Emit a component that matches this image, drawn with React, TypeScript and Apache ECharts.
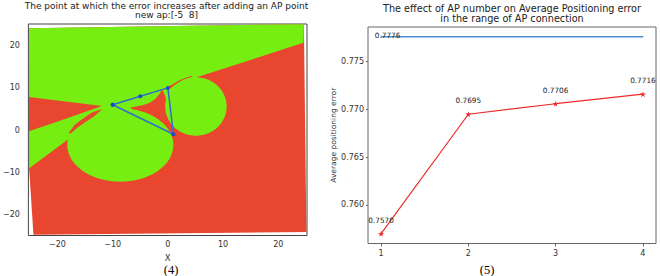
import React, { useEffect, useRef } from "react";
import * as echarts from "echarts";

// ---------- Left panel: region map (data coordinates) ----------
const mapTicks = [-20, -10, 0, 10, 20];
// AP triangle with the new AP at (-5, 8)
const apPath: [number, number][] = [[-10, 6], [-5, 8], [0, 10], [1, -1], [-10, 6]];

// area covered by the scatter of evaluated points (red = error increases)
const coveredArea: [number, number][] = [
  [-25.15, 24.2], [24.63, 25.15], [25.08, -24.2], [-24.34, -24.91], [-25.11, -9.49],
];
// green: error does not increase
const upperGreen: [number, number][] = [
  [-25.15, 24.2], [24.63, 25.15], [24.54, 20.71], [5.35, 12.57], [5.08, 7.12],
  [1.49, 3.56], [-0.66, 4.74], [-3.89, 2.85], [-8.74, 1.19], [-17.97, -2.14], [-25.11, -9.09],
];
const leftWedge: [number, number][] = [
  [-25.15, 7.83], [-11.96, 5.69], [-15.55, 4.03], [-19.68, 2.14], [-25.15, -0.31],
];
const topSliver: [number, number][] = [
  [0.05, 10.32], [0.95, 10.91], [2.03, 11.74], [3.1, 12.34], [4.18, 12.81],
  [4.54, 12.69], [3.46, 12.22], [2.21, 11.44], [1.13, 10.56], [0.41, 9.85],
];
const innerCusp: [number, number][] = [
  [-6.76, 5.34], [-4.79, 5.81], [-3.35, 6.41], [-2.28, 7.35], [-1.56, 8.54], [-1.02, 9.61],
  [-0.57, 8.3], [-0.22, 6.64], [0.23, 4.74], [1.67, 1.42], [1.13, -1.9], [-3.0, 1.9], [-5.69, 3.8],
];
const crescent: [number, number][] = [
  [-17.97, -0.71], [-16.9, 1.19], [-15.37, 2.73], [-13.76, 4.15], [-11.87, 4.98],
  [-13.4, 3.2], [-14.92, 1.9], [-16.36, 0.59], [-17.61, -0.83],
];
// discs: [centerX, centerY, radiusX, radiusY]
const lowerDisc = [-8.61, -3.56, 9.6, 8.71];
const rightDisc = [5.08, 5.58, 5.56, 6.93];

// ---------- Right panel ----------
const apCounts = [1, 2, 3, 4];
const avgError = [0.757, 0.7695, 0.7706, 0.7716];
const baselineError = 0.7776;
const errorTicks = [0.76, 0.765, 0.77, 0.775];

const RED = "#e9462f";
const GREEN = "#77ee11";
const FONT = "'DejaVu Sans', sans-serif";

type Layer = { pts?: [number, number][]; disc?: number[]; fill: string };
const layers: Layer[] = [
  { pts: coveredArea, fill: RED },
  { pts: upperGreen, fill: GREEN },
  { pts: leftWedge, fill: RED },
  { pts: topSliver, fill: RED },
  { pts: innerCusp, fill: RED },
  { disc: lowerDisc, fill: GREEN },
  { disc: rightDisc, fill: GREEN },
  { pts: crescent, fill: RED },
];

const STAR =
  "path://M50,0 L61,35 L98,35 L68,57 L79,91 L50,70 L21,91 L32,57 L2,35 L39,35 Z";

const minus = (v: number) => (v < 0 ? "\u2212" + Math.abs(v) : String(v));

export default function App() {
  const ref = useRef<HTMLDivElement>(null);
  useEffect(() => {
    if (!ref.current) return;
    const chart = echarts.init(ref.current, undefined, { renderer: "svg" });
    const axisText = { fontSize: 8, color: "#333", fontFamily: FONT };
    chart.setOption({
      animation: false,
      backgroundColor: "#fff",
      title: [
        {
          text: "The point at which the error increases after adding an AP point\nnew ap:[-5  8]",
          left: 166.5,
          top: 0.8,
          textAlign: "center",
          padding: 0,
          textStyle: { fontSize: 9, lineHeight: 9.6, fontWeight: "normal", color: "#222", fontFamily: FONT },
        },
        {
          text: "The effect of AP number on Average Positioning error\nin the range of AP connection",
          left: 512,
          top: 3.1,
          textAlign: "center",
          padding: 0,
          textStyle: { fontSize: 9.7, lineHeight: 10, fontWeight: "normal", color: "#222", fontFamily: FONT },
        },
      ],
      grid: [
        { left: 26, top: 24, width: 281, height: 211.5, show: true, borderColor: "#444", borderWidth: 1, backgroundColor: "transparent" },
        { left: 368, top: 27, width: 288, height: 216.5, show: true, borderColor: "#666", borderWidth: 1, backgroundColor: "transparent" },
      ],
      xAxis: [
        {
          type: "value", gridIndex: 0, min: -25.26, max: 25.19,
          name: "X", nameLocation: "middle", nameGap: 16,
          nameTextStyle: { fontSize: 8.5, color: "#333", fontFamily: FONT },
          splitLine: { show: false }, axisLine: { show: false },
          axisTick: { show: true, length: 3.5, customValues: mapTicks, lineStyle: { color: "#444" } },
          axisLabel: { ...axisText, margin: 5, customValues: mapTicks, formatter: minus },
        },
        {
          type: "value", gridIndex: 1, min: 0.85, max: 4.15,
          splitLine: { show: false }, axisLine: { show: false },
          axisTick: { show: true, length: 3, customValues: apCounts, lineStyle: { color: "#666" } },
          axisLabel: { ...axisText, margin: 6, customValues: apCounts },
        },
      ],
      yAxis: [
        {
          type: "value", gridIndex: 0, min: -25.06, max: 25.18,
          splitLine: { show: false }, axisLine: { show: false },
          axisTick: { show: true, length: 3.5, customValues: mapTicks, lineStyle: { color: "#444" } },
          axisLabel: { ...axisText, margin: 8.5, customValues: mapTicks, formatter: minus },
        },
        {
          type: "value", gridIndex: 1, min: 0.75597, max: 0.77863,
          name: "Average positioning error", nameLocation: "middle", nameGap: 29, nameRotate: 90,
          nameTextStyle: { fontSize: 7.5, color: "#333", fontFamily: FONT },
          splitLine: { show: false }, axisLine: { show: false },
          axisTick: { show: true, length: 2, customValues: errorTicks, lineStyle: { color: "#666" } },
          axisLabel: { ...axisText, margin: 4, customValues: errorTicks, formatter: (v: number) => v.toFixed(3) },
        },
      ],
      series: [
        {
          type: "custom",
          coordinateSystem: "cartesian2d",
          xAxisIndex: 0,
          yAxisIndex: 0,
          silent: true,
          data: layers.map(() => [0, 0]),
          renderItem: (params: any, api: any) => {
            const layer = layers[params.dataIndex];
            let points: number[][] = [];
            if (layer.disc) {
              const [cx, cy, rx, ry] = layer.disc;
              for (let k = 0; k < 120; k++) {
                const t = (k / 120) * Math.PI * 2;
                points.push(api.coord([cx + rx * Math.cos(t), cy + ry * Math.sin(t)]));
              }
            } else {
              points = (layer.pts || []).map((p) => api.coord(p));
            }
            return { type: "polygon", shape: { points }, style: { fill: layer.fill, stroke: "none" } };
          },
          z: 1,
        },
        {
          type: "line",
          xAxisIndex: 0,
          yAxisIndex: 0,
          data: apPath,
          lineStyle: { color: "#2f6fd0", width: 1.5 },
          itemStyle: { color: "#1f48c8" },
          symbol: "circle",
          symbolSize: 4,
          z: 3,
        },
        {
          type: "line",
          xAxisIndex: 1,
          yAxisIndex: 1,
          data: [
            {
              value: [apCounts[0], baselineError],
              label: {
                show: true, position: "top", distance: 0, offset: [6.5, 2.5],
                formatter: baselineError.toFixed(4), fontSize: 7.3, color: "#222", fontFamily: FONT,
              },
            },
            { value: [apCounts[apCounts.length - 1], baselineError] },
          ],
          lineStyle: { color: "#4b8fd1", width: 1.5 },
          itemStyle: { color: "#4b8fd1" },
          symbol: "circle",
          symbolSize: 1,
          z: 3,
        },
        {
          type: "line",
          xAxisIndex: 1,
          yAxisIndex: 1,
          data: apCounts.map((c, i) => [c, avgError[i]]),
          lineStyle: { color: "#ee2a2a", width: 1.2 },
          itemStyle: { color: "#ee2a2a" },
          symbol: STAR,
          symbolSize: 6,
          label: {
            show: true, position: "top", distance: 7,
            formatter: (p: any) => p.value[1].toFixed(4),
            fontSize: 7.3, color: "#222", fontFamily: FONT,
          },
          z: 3,
        },
      ],
      graphic: [
        {
          type: "text", x: 171, y: 270,
          style: { text: "(4)", font: "12.5px 'Liberation Serif', serif", fill: "#000", align: "center", verticalAlign: "middle", textAlign: "center", textVerticalAlign: "middle" },
        },
        {
          type: "text", x: 487, y: 270,
          style: { text: "(5)", font: "12.5px 'Liberation Serif', serif", fill: "#000", align: "center", verticalAlign: "middle", textAlign: "center", textVerticalAlign: "middle" },
        },
      ],
    });
    return () => chart.dispose();
  }, []);
  return (
    <div
      ref={ref}
      style={{ position: "fixed", left: 0, top: 0, width: 660, height: 276, background: "#fff" }}
    />
  );
}
